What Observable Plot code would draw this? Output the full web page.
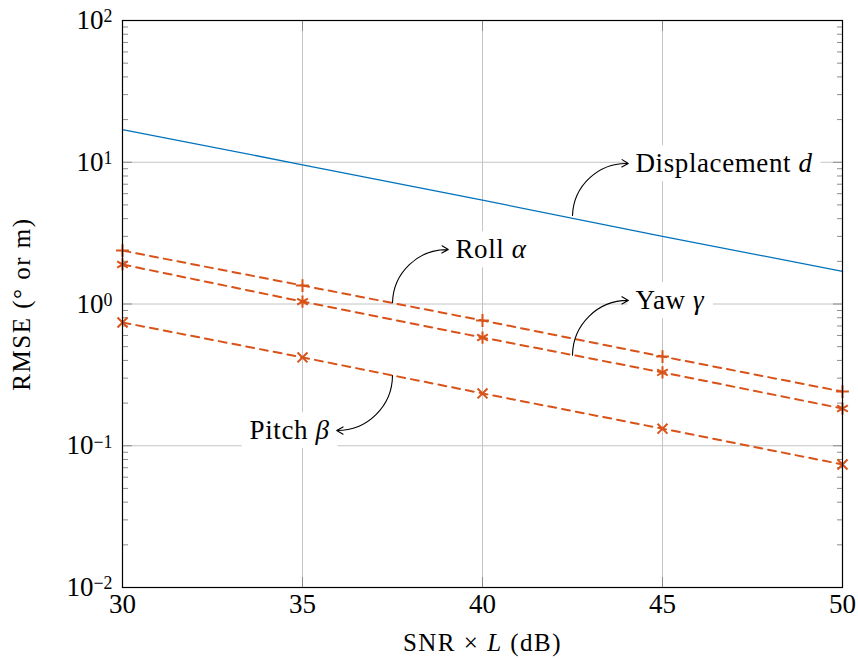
<!DOCTYPE html>
<html><head><meta charset="utf-8">
<script src="https://cdn.jsdelivr.net/npm/d3@7"></script>
<script src="https://cdn.jsdelivr.net/npm/@observablehq/plot@0.6"></script>
<style>
body{margin:0;background:#fff;}
svg text, svg tspan { font-family: "Liberation Serif", "DejaVu Serif", serif !important; }
</style>
</head><body><div id="chart"></div>
<script>
// ---- data ----
const snr = [30, 35, 40, 45, 50];
const displacement = [17.0, 9.6, 5.4, 3.0, 1.70];
const roll = [2.38, 1.35, 0.765, 0.426, 0.241];
const yaw = [1.90, 1.04, 0.58, 0.329, 0.183];
const pitch = [0.741, 0.42, 0.234, 0.132, 0.0738];

const xTicks = [30, 35, 40, 45, 50];
const yTicks = [0.01, 0.1, 1, 10, 100];
const yTickExp = ["−2", "−1", "0", "1", "2"];
const minorY = [0.02,0.03,0.04,0.05,0.06,0.07,0.08,0.09,
                0.2,0.3,0.4,0.5,0.6,0.7,0.8,0.9,
                2,3,4,5,6,7,8,9,
                20,30,40,50,60,70,80,90];

const labelText = ["Displacement |d", "Roll |α", "Yaw |γ", "Pitch |β"];
const labelX = [44.25, 39.25, 44.25, 35.75];
const labelY = [9.8, 2.42, 1.06, 0.128];
const labelAnchor = ["start", "start", "start", "end"];
const arrowX1 = [42.5, 37.5, 42.5, 37.5];
const arrowY1 = [4.21, 1.02, 0.435, 0.313];
const arrowX2 = [44.05, 39.05, 44.05, 35.95];
const arrowY2 = [9.8, 2.42, 1.06, 0.128];

const xLabel = "SNR × |L| (dB)";
const yLabel = "RMSE (° or m)";

// ---- tables ----
const series = (vals) => snr.map((x, i) => ({x, y: vals[i]}));
const dispData = series(displacement);
const rollData = series(roll);
const yawData = series(yaw);
const pitchData = series(pitch);
const labels = labelText.map((t, i) => ({t, x: labelX[i], y: labelY[i], a: labelAnchor[i]}));
const arrows = arrowX1.map((x1, i) => ({x1, y1: arrowY1[i], x2: arrowX2[i], y2: arrowY2[i]}));

const ORANGE = "#D95319", BLUE = "#0072BD", GRID = "#c4c4c4", TICK = "#8c8c8c";
const FONT = "'Liberation Serif', 'DejaVu Serif', serif";

const dashed = {stroke: ORANGE, strokeWidth: 2, strokeDasharray: "8,6"};
const dotOpts = {stroke: ORANGE, strokeWidth: 2, fill: "none"};

const svg = Plot.plot({
  width: 858, height: 659,
  marginLeft: 122, marginRight: 16, marginTop: 20, marginBottom: 72,
  x: {domain: [30, 50]},
  y: {type: "log", domain: [0.01, 100]},
  style: {fontFamily: FONT, fontSize: "27px", color: "black", background: "white"},
  marks: [
    Plot.gridX(xTicks.slice(1, 4), {stroke: GRID, strokeOpacity: 1, strokeWidth: 1}),
    Plot.gridY(yTicks.slice(1, 4), {stroke: GRID, strokeOpacity: 1, strokeWidth: 1}),
    // minor ticks (inward)
    Plot.axisY(minorY, {anchor: "left", tickSize: 6, dx: 6, tickFormat: () => "", label: null, stroke: TICK}),
    Plot.axisY(minorY, {anchor: "right", tickSize: 6, dx: -6, tickFormat: () => "", label: null, stroke: TICK}),
    // major ticks (inward)
    Plot.axisY(yTicks.slice(1, 4), {anchor: "left", tickSize: 10, dx: 10, tickFormat: () => "", label: null, stroke: TICK}),
    Plot.axisY(yTicks.slice(1, 4), {anchor: "right", tickSize: 10, dx: -10, tickFormat: () => "", label: null, stroke: TICK}),
    Plot.axisX(xTicks.slice(1, 4), {anchor: "bottom", tickSize: 10, dy: -10, tickFormat: () => "", label: null, stroke: TICK}),
    Plot.axisX(xTicks.slice(1, 4), {anchor: "top", tickSize: 10, dy: 10, tickFormat: () => "", label: null, stroke: TICK}),
    // tick labels + axis labels
    Plot.axisY(yTicks, {anchor: "left", tickSize: 0, tickPadding: 10,
      tickFormat: d => "10^" + yTickExp[yTicks.indexOf(d)],
      label: yLabel, labelAnchor: "center", labelOffset: 110, labelArrow: "none"}),
    Plot.axisX(xTicks, {anchor: "bottom", tickSize: 0, tickPadding: 6,
      tickFormat: d => String(d),
      label: xLabel, labelAnchor: "center", labelOffset: 63, labelArrow: "none"}),
    // data
    Plot.line(dispData, {x: "x", y: "y", stroke: BLUE, strokeWidth: 1.3}),
    Plot.line(rollData, {x: "x", y: "y", ...dashed}),
    Plot.line(yawData, {x: "x", y: "y", ...dashed}),
    Plot.line(pitchData, {x: "x", y: "y", ...dashed}),
    Plot.dot(rollData, {x: "x", y: "y", symbol: "plus", r: 4.2, ...dotOpts}),
    Plot.dot(yawData, {x: "x", y: "y", symbol: "asterisk", r: 5.8, ...dotOpts}),
    Plot.dot(pitchData, {x: "x", y: "y", symbol: "times", r: 4.6, ...dotOpts}),
    Plot.frame({stroke: "black", strokeWidth: 1.2}),
    // annotations (labels with white boxes, then arrows on top)
    Plot.text(labels.filter(d => d.a === "start"), {x: "x", y: "y", text: "t", textAnchor: "start", fill: "black", fontSize: 27, className: "anno"}),
    Plot.text(labels.filter(d => d.a === "end"), {x: "x", y: "y", text: "t", textAnchor: "end", fill: "black", fontSize: 27, className: "anno"}),
    Plot.arrow(arrows, {x1: "x1", y1: "y1", x2: "x2", y2: "y2", bend: 45, stroke: "black", strokeWidth: 1.1, headLength: 10})
  ]
});

document.getElementById("chart").appendChild(svg);

// axis label sizing/spacing
d3.select(svg).selectAll('g[aria-label="x-axis label"] text, g[aria-label="y-axis label"] text')
  .attr("font-size", 25).style("letter-spacing", "1.5px");
d3.select(svg).selectAll(".anno text").style("letter-spacing", "0.6px");

// rich text: superscripts and italics
d3.select(svg).selectAll("text").each(function () {
  const s = this.textContent;
  const t = d3.select(this);
  if (s.includes("^")) {
    const [b, e] = s.split("^");
    t.text(b);
    t.append("tspan").attr("dy", "-0.38em").attr("font-size", "0.66em").text(e);
  } else if (s.includes("|")) {
    const parts = s.split("|");
    t.text("");
    parts.forEach((p, i) => {
      const ts = t.append("tspan").text(p);
      if (i % 2 === 1) ts.attr("font-style", "italic");
    });
  }
});

// white boxes behind annotation labels
d3.select(svg).selectAll(".anno text").each(function () {
  const b = this.getBBox();
  const r = document.createElementNS("http://www.w3.org/2000/svg", "rect");
  r.setAttribute("x", b.x - 8);
  r.setAttribute("y", b.y - 3);
  r.setAttribute("width", b.width + 16);
  r.setAttribute("height", b.height + 6);
  r.setAttribute("fill", "white");
  r.setAttribute("stroke", "none");
  const tr = this.getAttribute("transform");
  if (tr) r.setAttribute("transform", tr);
  this.parentNode.insertBefore(r, this);
});
</script>
</body></html>
